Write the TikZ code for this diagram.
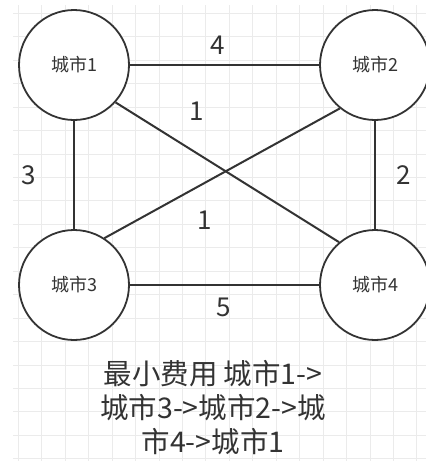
\documentclass[tikz,border=0pt]{standalone}
\usepackage{fontspec}
\setmainfont{Noto Sans CJK SC}
\definecolor{ink}{HTML}{333333}
\definecolor{gridc}{HTML}{EBEBEB}
\begin{document}
\begin{tikzpicture}[x=1pt,y=-1pt,
  city/.style={circle,draw=ink,line width=1.8pt,fill=white,minimum size=110pt,inner sep=0pt,
    text=ink,font=\fontsize{18}{20}\selectfont},
  link/.style={draw=ink,line width=2pt},
  wlabel/.style={text=ink,inner sep=0pt,font=\fontsize{26}{30}\selectfont}]
\useasboundingbox (0,0) rectangle (426,461);
\fill[white] (0,0) rectangle (426,461);
% grid
\foreach \k in {0,...,19} {
  \draw[gridc,line width=1pt] (13,{13.3+23.45*\k}) -- (426,{13.3+23.45*\k});
}
\foreach \k in {0,...,17} {
  \draw[gridc,line width=1pt] ({18.3+23.45*\k},5) -- ({18.3+23.45*\k},461);
}
\coordinate (p1) at (74,65);
\coordinate (p2) at (375,65);
\coordinate (p3) at (74,285);
\coordinate (p4) at (375,285);
\node[city] (c1) at (p1) {城市1};
\node[city] (c2) at (p2) {城市2};
\node[city] (c3) at (p3) {城市3};
\node[city] (c4) at (p4) {城市4};
\draw[link] (c1.east) -- (c2.west);
\draw[link] (c3.east) -- (c4.west);
\draw[link] (c1.south) -- (c3.north);
\draw[link] (c2.south) -- (c4.north);
\draw[link] (c1.-42) -- (c4.130);
\draw[link] (c2.231) -- (c3.57);
% weights
\node[wlabel] (w12) at (218,45) {4};
\node[wlabel] (w14) at (197,111) {1};
\node[wlabel] (w13) at (28.5,175) {3};
\node[wlabel] (w24) at (403.5,175) {2};
\node[wlabel] (w23) at (205,220) {1};
\node[wlabel] (w34) at (224,307) {5};
% caption
\node[text=ink,align=center,inner sep=0pt,font=\fontsize{28.5}{34}\selectfont] (cap) at (213,408)
  {最小费用 城市1->\\城市3->城市2->城\\市4->城市1};
\end{tikzpicture}
\end{document}
